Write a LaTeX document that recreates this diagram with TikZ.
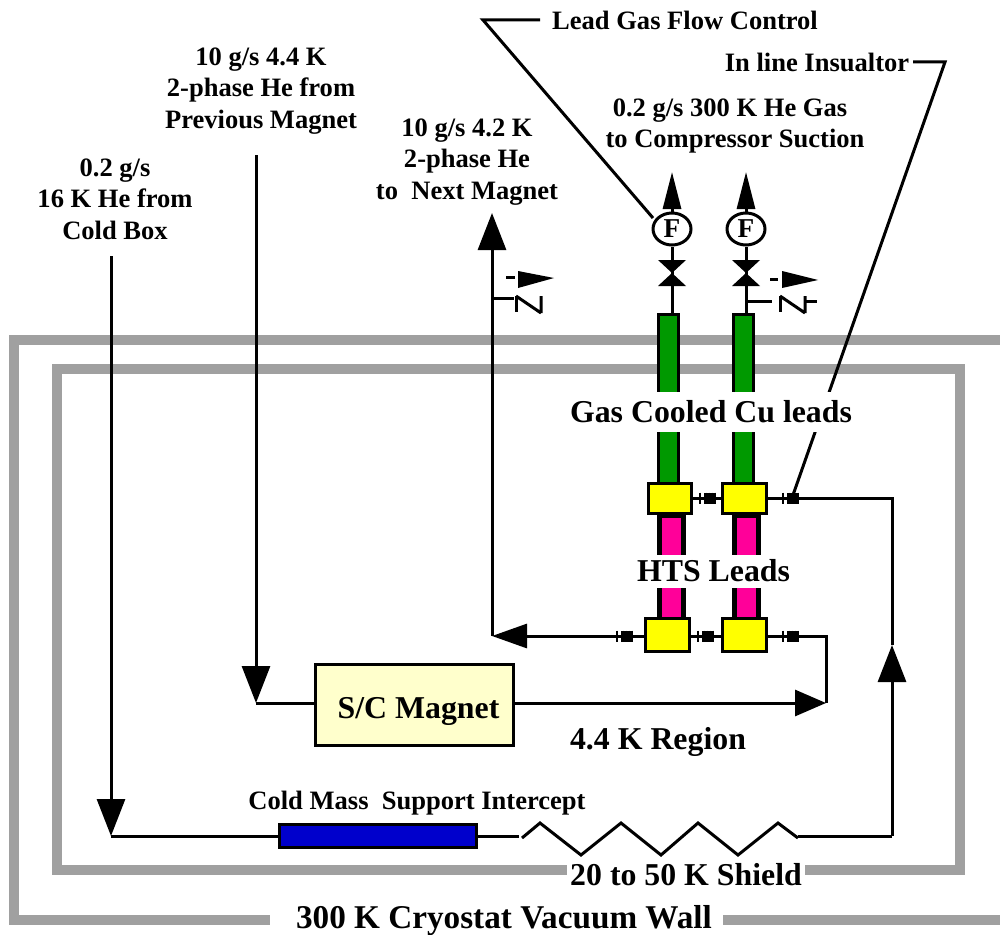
\documentclass[tikz,border=0pt]{standalone}
\usepackage{fontspec}
\setmainfont{Liberation Serif}
\usetikzlibrary{arrows.meta,shapes.geometric}
\definecolor{wallgray}{HTML}{A0A0A0}
\definecolor{leadgreen}{HTML}{009900}
\definecolor{htspink}{HTML}{FF0099}
\definecolor{magyellow}{HTML}{FFFFCC}
\definecolor{supblue}{HTML}{0000CC}
\definecolor{boxyellow}{HTML}{FFFF00}
\def\pxu{0.569pt}
\tikzset{
  x=0.569pt,y=-0.569pt,
  wire/.style={draw=black,line width=3*\pxu,line cap=butt},
  wall/.style={draw=wallgray,line width=10.5*\pxu,line join=miter},
  lbl/.style={font=\fontsize{15.1}{18}\selectfont\bfseries,align=center,inner sep=0pt},
  big/.style={font=\fontsize{18.1}{21}\selectfont\bfseries,align=center,inner sep=0pt},
  box/.style 2 args={rectangle,draw=black,line width=3*\pxu,inner sep=0pt,minimum width=#1*\pxu,minimum height=#2*\pxu},
  upA/.style={-{Triangle[length=37*\pxu,width=28*\pxu]}},
  smallA/.style={-{Triangle[length=37*\pxu,width=18*\pxu]}},
  leftA/.style={-{Triangle[length=35*\pxu,width=24*\pxu]}},
  rightA/.style={-{Triangle[length=31*\pxu,width=26*\pxu]}},
  insul/.pic={
    \draw[line width=2.2*\pxu] (0,-5.5) -- (0,5.5);
    \foreach \i in {5.5,8.5,11.5,14.5}{\draw[line width=2.4*\pxu] (\i,-5.5) -- (\i,5.5);}
  },
  zsym/.pic={
    \draw[line width=3*\pxu,line join=miter] (0,-8) -- (0,8);
    \draw[line width=3*\pxu] (0,-8) -- (25,9) (25,-8) -- (25,9);
  },
  flag/.style={fill=black,draw=none},
  meter/.style={ellipse,draw=black,line width=3*\pxu,fill=white,minimum width=38*\pxu,minimum height=32*\pxu,inner sep=0pt,font=\fontsize{15.5}{17}\selectfont\bfseries}
}
\begin{document}
\begin{tikzpicture}
\useasboundingbox (0,0) rectangle (1000,934);
% walls
\coordinate (owR) at (1000,340);
\coordinate (owTL) at (14,340);
\coordinate (owBL) at (14,920);
\coordinate (owGapL) at (270,920);
\coordinate (owGapR) at (723,920);
\coordinate (owBR) at (1000,920);
\draw[wall] (owR) -- (owTL) -- (owBL) -- (owGapL);
\draw[wall] (owGapR) -- (owBR);
\coordinate (iwTL) at (57,369);
\coordinate (iwTR) at (960,369);
\coordinate (iwBR) at (960,870);
\coordinate (iwBL) at (57,870);
\coordinate (iwGapL) at (567,870);
\coordinate (iwGapR) at (805,870);
\draw[wall] (iwGapR) -- (iwBR) -- (iwTR) -- (iwTL) -- (iwBL) -- (iwGapL);
% leads
\node[box={20}{170},fill=leadgreen] (cuA) at (668.5,399) {};
\node[box={20}{170},fill=leadgreen] (cuB) at (743.5,399) {};
\node[box={26}{106},fill=black] (htsAo) at (671.5,566) {};
\node[box={26}{106},fill=black] (htsBo) at (746,566) {};
\node[rectangle,fill=htspink,inner sep=0pt,minimum width=19*\pxu,minimum height=100*\pxu] (htsA) at (671.5,568) {};
\node[rectangle,fill=htspink,inner sep=0pt,minimum width=19*\pxu,minimum height=100*\pxu] (htsB) at (746.5,568) {};
\node[box={43}{30},fill=boxyellow] (ytA) at (670,498.5) {};
\node[box={44}{30},fill=boxyellow] (ytB) at (744.5,498.5) {};
\node[box={44}{33},fill=boxyellow] (ybA) at (667.5,635) {};
\node[box={44}{33},fill=boxyellow] (ybB) at (744.5,635) {};
% valves and meters
\node[meter] (fA) at (672,229) {F};
\node[meter] (fB) at (746,229) {F};
\coordinate (vA) at (672,273);
\coordinate (vB) at (746,273);
\coordinate (tipA) at (672,172);
\coordinate (tipB) at (746,172);
\draw[wire] (fA) -- (vA) -- (vA |- cuA.north);
\draw[wire] (fB) -- (vB) -- (vB |- cuB.north);
\draw[wire,smallA] (fA.north) -- (tipA);
\draw[wire,smallA] (fB.north) -- (tipB);
\fill[flag] (658,260) -- (686,260) -- (658,286) -- (686,286) -- cycle;
\fill[flag] (732,260) -- (760,260) -- (732,286) -- (760,286) -- cycle;
% left vent line
\coordinate (retTop) at (492,213);
\coordinate (retCorner) at (492,636);
\draw[wire,upA] (retCorner) -- (retTop);
\draw[wire,leftA] (ybA.west |- retCorner) -- (retCorner);
\coordinate (tickL) at (514,298);
\draw[wire] (tickL -| retCorner) -- (tickL);
\pic at (516,304) {zsym};
\draw[line width=3*\pxu] (506,277) -- (515,277);
\fill[flag] (518,271) -- (554,278) -- (518,288) -- cycle;
% right tick
\coordinate (tickR) at (772,301);
\draw[wire] (tickR -| vB) -- (tickR);
\pic at (780,304) {zsym};
\draw[line width=3*\pxu] (805,301) -- (817,301);
\draw[line width=3*\pxu] (770,279) -- (778,279);
\fill[flag] (782,271) -- (818,280) -- (782,288) -- cycle;
% magnet circuit
\node[box={198}{81},fill=magyellow] (mag) at (414,704.5) {};
\node[big,anchor=center] (magT) at (418.5,711) {S/C Magnet};
\coordinate (hpTop) at (256,155);
\coordinate (hpCorner) at (256,703);
\coordinate (magTip) at (826,703);
\coordinate (ybEnd) at (826,636);
\draw[wire,upA] (hpTop) -- (hpCorner);
\draw[wire] (hpCorner) -- (mag.west |- hpCorner);
\draw[wire,rightA] (mag.east |- magTip) -- (magTip);
\draw[wire] (magTip) -- (ybEnd) -- (ybB.east |- ybEnd);
\draw[wire] (ybA.east |- ybEnd) -- (ybB.west |- ybEnd);
\draw[wire] (ytA.east) -- (ytB.west);
% shield circuit
\coordinate (cbTop) at (111,256);
\coordinate (cbCorner) at (111,836);
\node[box={197}{23},fill=supblue] (sup) at (378,836) {};
\coordinate (zzIn) at (519,836);
\coordinate (zzOut) at (798,836);
\coordinate (shCorner) at (892,836);
\coordinate (shMid) at (892,645);
\coordinate (shTop) at (892,498);
\draw[wire,upA] (cbTop) -- (cbCorner);
\draw[wire] (cbCorner) -- (sup.west);
\draw[wire] (sup.east) -- (zzIn);
\draw[wire,line join=miter] (522,838) -- (540,823) -- (581,855) -- (621,823) -- (661,855) -- (698,823) -- (738,855) -- (778,823) -- (798,838);
\draw[wire] (zzOut) -- (shCorner);
\draw[wire,upA] (shCorner) -- (shMid);
\draw[wire] (shMid) -- (shTop) -- (ytB.east |- shTop);
% insulators
\pic at (617,636) {insul};
\pic at (698,636) {insul};
\pic at (783,636) {insul};
\pic at (700,498) {insul};
\pic at (783,498) {insul};
% leaders
\coordinate (lgfL) at (483,20);
\coordinate (lgfR) at (540,20);
\draw[wire] (lgfR) -- (lgfL) -- (653,218);
\coordinate (ilR) at (945,62);
\coordinate (ilL) at (913,62);
\coordinate (ilEnd) at (793,495);
\draw[wire] (ilL) -- (ilR) -- (ilEnd);
% labels
\node[lbl] (t1) at (685,20) {Lead Gas Flow Control};
\node[lbl] (t2) at (817,62) {In line Insualtor};
\node[lbl] (t3) at (735,126) {0.2 g/s 300 K He Gas\hspace*{5.7pt}\\to Compressor Suction};
\node[lbl] (t4) at (261,91) {10 g/s 4.4 K\\2-phase He from\\Previous Magnet};
\node[lbl] (t5) at (467,162) {10 g/s 4.2 K\\2-phase He\\to\ \ Next Magnet};
\node[lbl] (t6) at (115,199) {0.2 g/s\\16 K He from\\Cold Box};
\node[big,fill=white,minimum height=40*\pxu] (t7) at (711,412) {Gas Cooled Cu leads};
\node[big,fill=white,minimum height=33*\pxu] (t8) at (713.5,571) {HTS Leads};
\node[big] (t9) at (658,742) {4.4 K Region};
\node[lbl] (t10) at (417,803) {Cold Mass\ \ Support Intercept};
\node[big] (t11) at (686,875) {20 to 50 K Shield};
\node[big,font=\fontsize{18.9}{21}\selectfont\bfseries] (t12) at (504,921) {300 K Cryostat Vacuum Wall};
\end{tikzpicture}
\end{document}
